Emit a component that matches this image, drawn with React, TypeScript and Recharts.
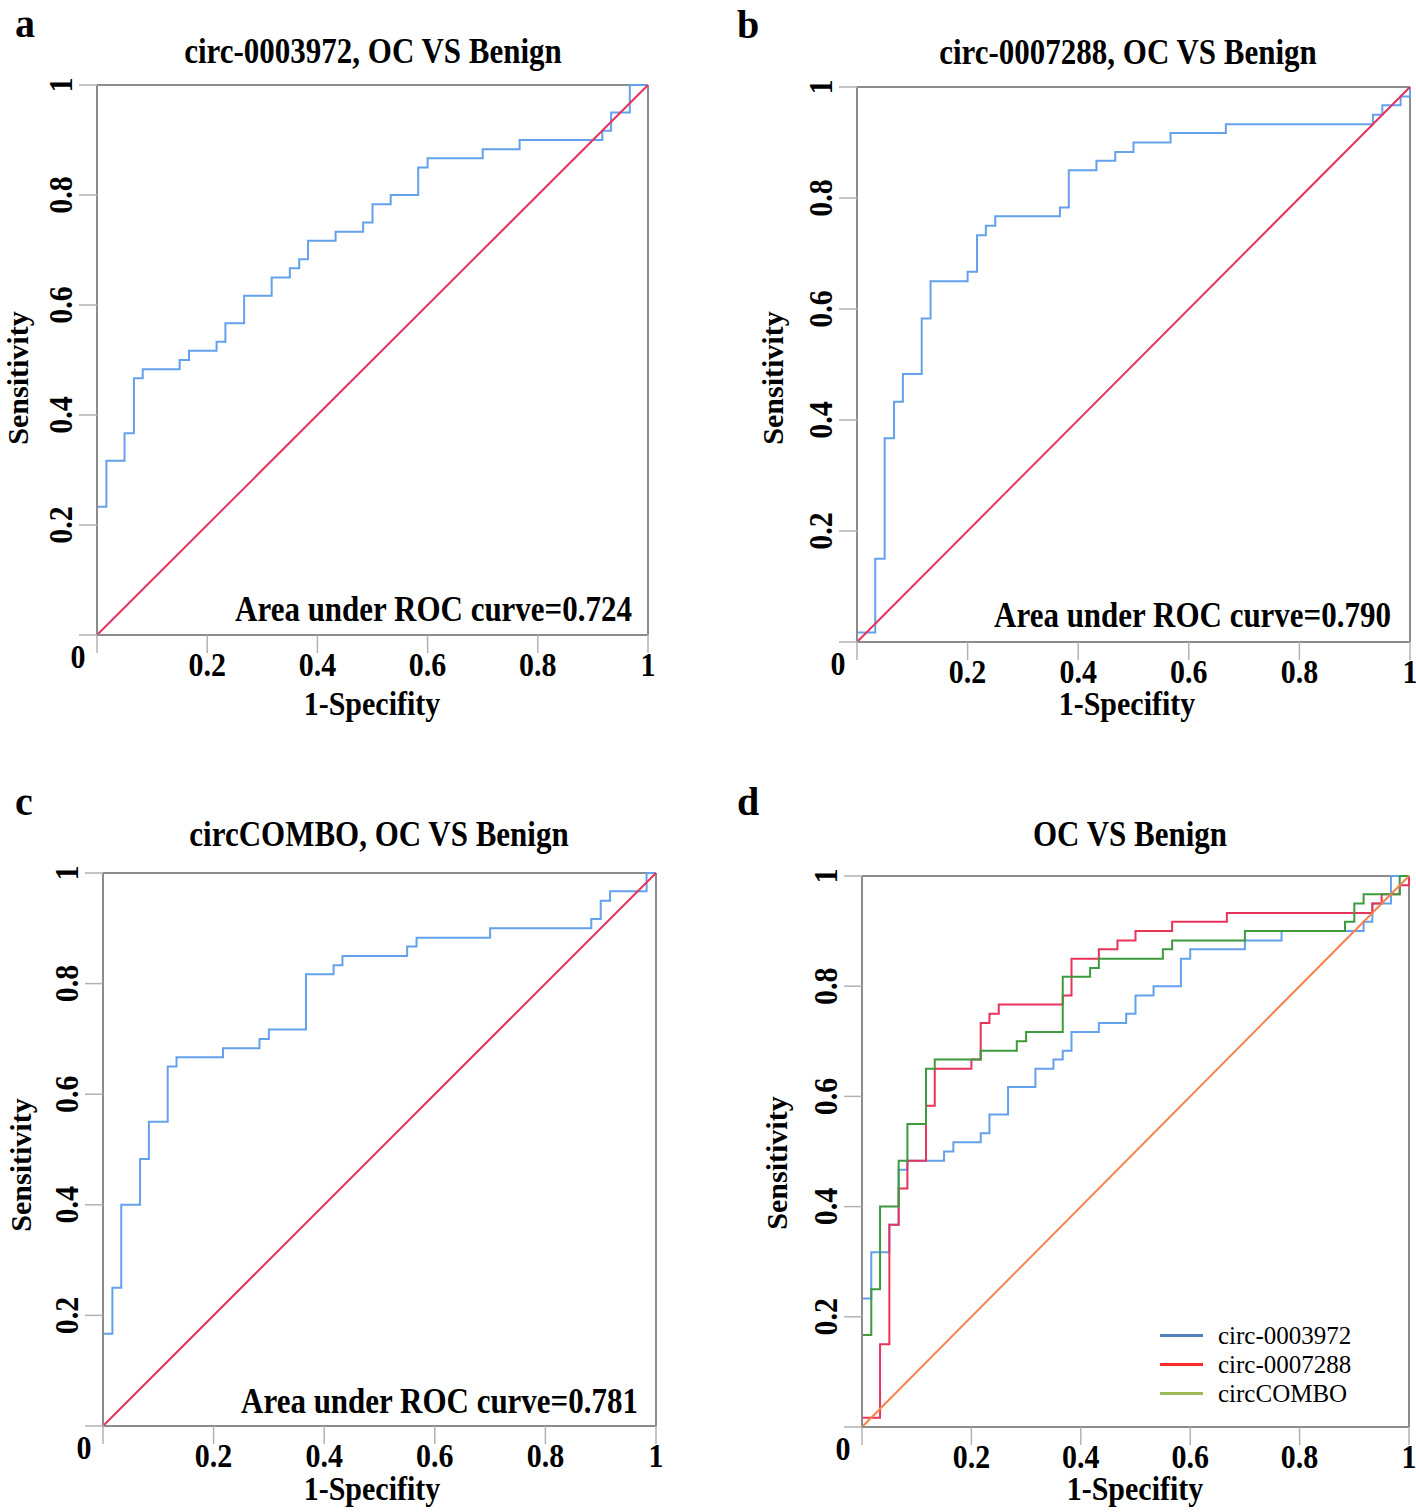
import React from "react";
import { LineChart, Line, XAxis, YAxis, ReferenceLine, Legend } from "recharts";

// axis ticks shared by all four panels
const TICKS = [0, 0.2, 0.4, 0.6, 0.8, 1];
const TICK_LABELS = ["0", "0.2", "0.4", "0.6", "0.8", "1"];

// ROC curves: each pair is the point where the step rises
// circ-0003972 (panel a)
const FPR_3972 = [0, 0, 0.017, 0.05, 0.067, 0.083, 0.15, 0.167, 0.217, 0.233, 0.267, 0.317, 0.35, 0.367, 0.383, 0.433, 0.483, 0.5, 0.533, 0.583, 0.6, 0.7, 0.767, 0.917, 0.933, 0.967, 1];
const SENS_3972 = [0, 0.233, 0.317, 0.367, 0.467, 0.483, 0.5, 0.517, 0.533, 0.567, 0.617, 0.65, 0.667, 0.683, 0.717, 0.733, 0.75, 0.783, 0.8, 0.85, 0.867, 0.883, 0.9, 0.917, 0.95, 1, 1];

// circ-0007288 (panel b)
const FPR_7288 = [0, 0, 0.033, 0.05, 0.067, 0.083, 0.117, 0.133, 0.2, 0.217, 0.233, 0.25, 0.367, 0.383, 0.433, 0.467, 0.5, 0.567, 0.667, 0.933, 0.95, 0.983, 1];
const SENS_7288 = [0, 0.017, 0.15, 0.367, 0.433, 0.483, 0.583, 0.65, 0.667, 0.733, 0.75, 0.767, 0.783, 0.85, 0.867, 0.883, 0.9, 0.917, 0.933, 0.95, 0.967, 0.983, 1];

// circCOMBO (panel c)
const FPR_COMBO = [0, 0, 0.017, 0.033, 0.067, 0.083, 0.117, 0.133, 0.217, 0.283, 0.3, 0.367, 0.417, 0.433, 0.55, 0.567, 0.7, 0.883, 0.9, 0.917, 0.983, 1];
const SENS_COMBO = [0, 0.167, 0.25, 0.4, 0.483, 0.55, 0.65, 0.667, 0.683, 0.7, 0.717, 0.817, 0.833, 0.85, 0.867, 0.883, 0.9, 0.917, 0.95, 0.967, 1, 1];

// reference diagonal
const DIAG_X = [0, 1];
const DIAG_Y = [0, 1];

const LETTERS = ["a", "b", "c", "d"];
const TITLES = ["circ-0003972, OC VS Benign", "circ-0007288, OC VS Benign", "circCOMBO, OC VS Benign", "OC VS Benign"];
const AUC = ["0.724", "0.790", "0.781"];
const LEGEND_NAMES = ["circ-0003972", "circ-0007288", "circCOMBO"];
const LEGEND_COLORS = ["#4f81bd", "#ff2b2b", "#9bbb59"];

const FONT = '"Liberation Serif", "Times New Roman", serif';
const SY = 1.15; // the original lettering is a bit taller than Times
const AXIS = "#8c8c8c";
const TICK = "#b2b2b2";
const BLUE = "#63a1ec";
const CRIMSON = "#e6335e";
const RED = "#e8335a";
const GREEN = "#3d9b3d";
const ORANGE = "#f5844c";

const toPoints = (xs: number[], ys: number[]) => xs.map((x, i) => ({ x, y: ys[i] }));

function Txt({ x, y, anchor = "middle", size = 30, weight = "bold", rotate = 0, sy = SY, children }: any) {
  return (
    <text
      transform={`translate(${x},${y}) rotate(${rotate}) scale(1,${sy})`}
      textAnchor={anchor}
      fontFamily={FONT}
      fontSize={size}
      fontWeight={weight}
      fill="#000"
    >
      {children}
    </text>
  );
}

function XTick({ x, y, payload }: any) {
  const label = TICK_LABELS[TICKS.indexOf(payload.value)];
  if (payload.value === 0) return <Txt x={x - 19} y={y + 12}>{label}</Txt>;
  return <Txt x={x} y={y + 20}>{label}</Txt>;
}

function YTick({ x, y, payload }: any) {
  if (payload.value === 0) return <g />;
  const label = TICK_LABELS[TICKS.indexOf(payload.value)];
  return <Txt x={x} y={y} rotate={-90}>{label}</Txt>;
}

function ComboLegend() {
  return (
    <div style={{ fontFamily: FONT, fontSize: 25, lineHeight: "29px", color: "#000" }}>
      {LEGEND_NAMES.map((name, i) => (
        <div key={name} style={{ display: "flex", alignItems: "center", height: 29 }}>
          <span style={{ width: 43, height: 3, background: LEGEND_COLORS[i], marginRight: 15 }} />
          <span>{name}</span>
        </div>
      ))}
    </div>
  );
}

const PANELS = [
  { left: 0, top: 0, width: 700, height: 740, margin: { top: 85, right: 52, bottom: 45, left: 37 } },
  { left: 708, top: 0, width: 708, height: 740, margin: { top: 87, right: 6, bottom: 38, left: 89 } },
  { left: 0, top: 756, width: 700, height: 756, margin: { top: 117, right: 44, bottom: 26, left: 43 } },
  { left: 708, top: 756, width: 708, height: 756, margin: { top: 120, right: 7, bottom: 25, left: 94 } },
];

const SERIES = [
  [{ pts: toPoints(FPR_3972, SENS_3972), color: BLUE }, { pts: toPoints(DIAG_X, DIAG_Y), color: CRIMSON }],
  [{ pts: toPoints(FPR_7288, SENS_7288), color: BLUE }, { pts: toPoints(DIAG_X, DIAG_Y), color: CRIMSON }],
  [{ pts: toPoints(FPR_COMBO, SENS_COMBO), color: BLUE }, { pts: toPoints(DIAG_X, DIAG_Y), color: CRIMSON }],
  [
    { pts: toPoints(FPR_3972, SENS_3972), color: BLUE },
    { pts: toPoints(FPR_7288, SENS_7288), color: RED },
    { pts: toPoints(FPR_COMBO, SENS_COMBO), color: GREEN },
    { pts: toPoints(DIAG_X, DIAG_Y), color: ORANGE },
  ],
];

// page positions of the lettering
const LETTER_POS = [[15, 37], [737, 38], [15, 815], [737, 815]];
const TITLE_POS = [[373, 63], [1128, 64], [379, 846], [1130, 846]];
const YTITLE_POS = [[28, 378], [783, 378], [31, 1165], [787, 1163]];
const XTITLE_POS = [[372, 715], [1127, 715], [372, 1500], [1135, 1500]];
const AUC_POS = [[632, 621], [1391, 627], [638, 1413]];

function Panel({ idx }: { idx: number }) {
  const p = PANELS[idx];
  return (
    <div style={{ position: "absolute", left: p.left, top: p.top }}>
      <LineChart width={p.width} height={p.height} margin={p.margin}>
        <XAxis
          type="number"
          dataKey="x"
          domain={[0, 1]}
          ticks={TICKS}
          height={60}
          tickSize={18}
          tickMargin={3}
          tick={<XTick />}
          tickLine={{ stroke: TICK, strokeWidth: 1.5 }}
          axisLine={{ stroke: AXIS, strokeWidth: 2 }}
        />
        <YAxis
          type="number"
          domain={[0, 1]}
          ticks={TICKS}
          width={60}
          tickSize={18}
          tickMargin={7}
          tick={<YTick />}
          tickLine={{ stroke: TICK, strokeWidth: 1.5 }}
          axisLine={{ stroke: AXIS, strokeWidth: 2 }}
        />
        <ReferenceLine y={1} stroke={AXIS} strokeWidth={2} />
        <ReferenceLine x={1} stroke={AXIS} strokeWidth={2} />
        {SERIES[idx].map((s, i) => (
          <Line
            key={i}
            data={s.pts}
            dataKey="y"
            type={s.pts.length > 2 ? "stepAfter" : "linear"}
            stroke={s.color}
            strokeWidth={2}
            dot={false}
            activeDot={false}
            isAnimationActive={false}
          />
        ))}
        {idx === 3 && (
          <Legend
            layout="vertical"
            align="center"
            verticalAlign="middle"
            content={<ComboLegend />}
            wrapperStyle={{ left: 452, top: 565, width: 250 }}
          />
        )}
      </LineChart>
    </div>
  );
}

export default function App() {
  return (
    <div style={{ position: "absolute", left: 0, top: 0, width: 1416, height: 1512, background: "#fff", overflow: "hidden" }}>
      {PANELS.map((_, i) => (
        <Panel key={i} idx={i} />
      ))}
      <svg width={1416} height={1512} style={{ position: "absolute", left: 0, top: 0, pointerEvents: "none" }}>
        {LETTERS.map((l, i) => (
          <Txt key={l} x={LETTER_POS[i][0]} y={LETTER_POS[i][1]} anchor="start" size={40} sy={1}>{l}</Txt>
        ))}
        {TITLES.map((t, i) => (
          <Txt key={t} x={TITLE_POS[i][0]} y={TITLE_POS[i][1]} size={31}>{t}</Txt>
        ))}
        {YTITLE_POS.map(([x, y], i) => (
          <Txt key={"y" + i} x={x} y={y} rotate={-90} sy={1}>Sensitivity</Txt>
        ))}
        {XTITLE_POS.map(([x, y], i) => (
          <Txt key={"x" + i} x={x} y={y}>1-Specifity</Txt>
        ))}
        {AUC.map((v, i) => (
          <Txt key={"auc" + i} x={AUC_POS[i][0]} y={AUC_POS[i][1]} anchor="end" size={31}>{`Area under ROC curve=${v}`}</Txt>
        ))}
      </svg>
    </div>
  );
}
